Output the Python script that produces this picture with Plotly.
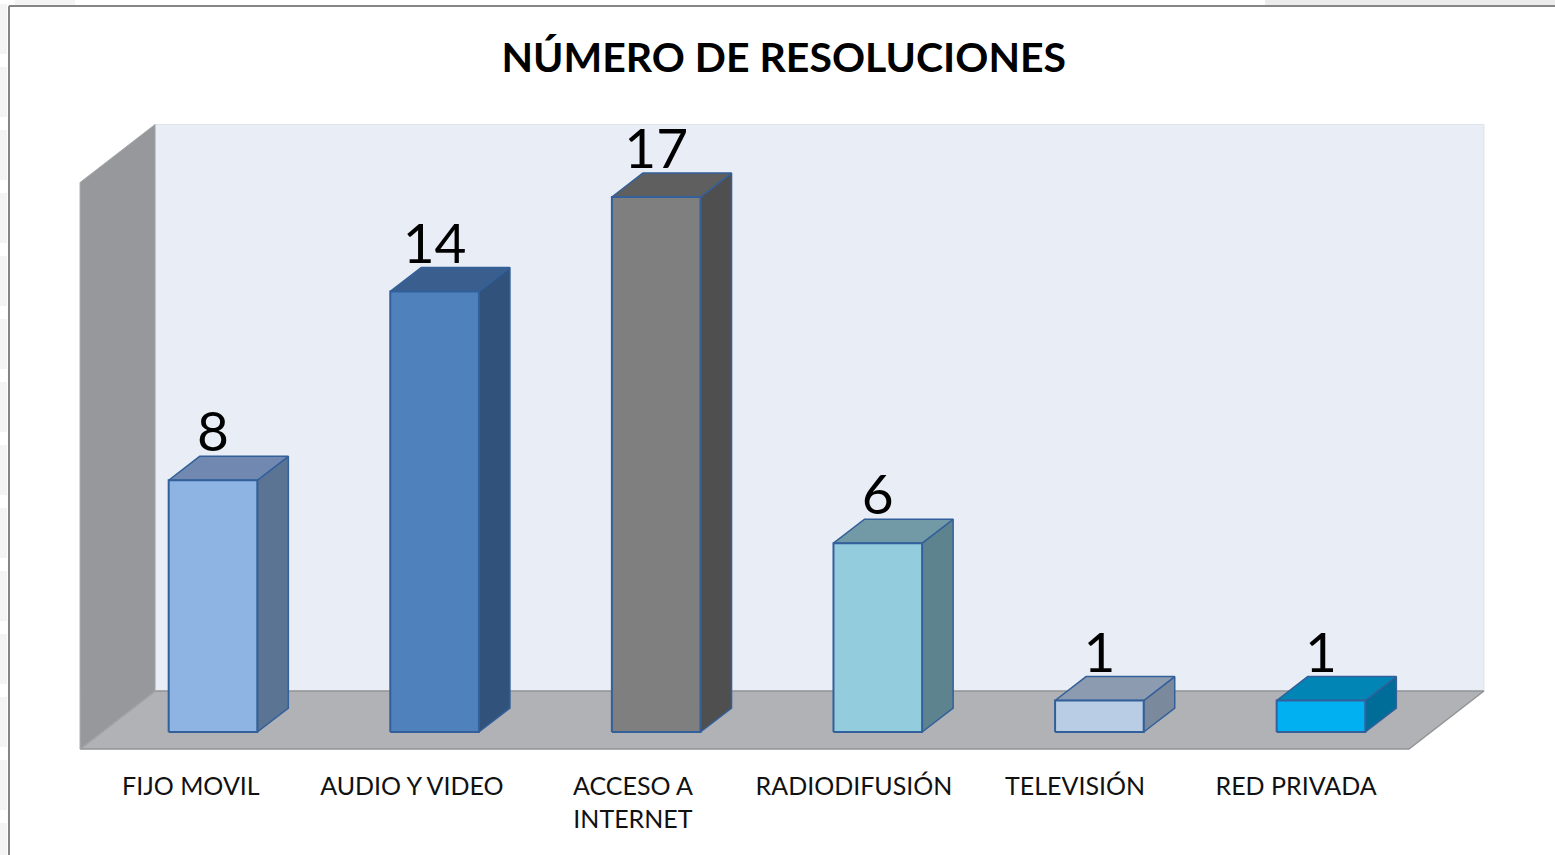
import plotly.graph_objects as go

TITLE = "NÚMERO DE RESOLUCIONES"
CATEGORIES = ["FIJO MOVIL", "AUDIO Y VIDEO", "ACCESO A<br>INTERNET", "RADIODIFUSIÓN", "TELEVISIÓN", "RED PRIVADA"]
VALUES = [8, 14, 17, 6, 1, 1]
FRONT_COLORS = ["#8eb4e3", "#4f81bd", "#7f7f7f", "#93cddd", "#b9cde5", "#00b0f0"]
TOP_COLORS = ["#7189b0", "#3a5f8f", "#5f5f5f", "#7299a6", "#8d9bb0", "#0085b5"]
SIDE_COLORS = ["#5b7493", "#31527b", "#4f4f4f", "#5d838f", "#7a8a9c", "#006d98"]

AXIS_MAX = 18
HALF_W = 0.2
BAR_DX, BAR_DY = 0.14, 0.76
FLOOR_FRONT = -0.54
WALL_DX, WALL_DY = 0.3384, 1.843
X_LEFT, X_RIGHT = -0.6, 5.397
LABEL_DROP = 0.28
EDGE = "#33609a"
FONT = "Lato"
W, H, PLOT_H = 1555, 855, 760

fig = go.Figure()

def face(xs, ys, fill, line=None, width=0):
    fig.add_trace(go.Scatter(
        x=xs + xs[:1], y=ys + ys[:1], mode="lines", fill="toself", fillcolor=fill,
        line=dict(color=line or fill, width=width), hoverinfo="skip", showlegend=False))

# back wall, floor, side wall
face([X_LEFT + WALL_DX, X_RIGHT + WALL_DX, X_RIGHT + WALL_DX, X_LEFT + WALL_DX],
     [FLOOR_FRONT + WALL_DY, FLOOR_FRONT + WALL_DY, FLOOR_FRONT + WALL_DY + AXIS_MAX, FLOOR_FRONT + WALL_DY + AXIS_MAX],
     "#e9edf5", "#dfe3ea", 1)
face([X_LEFT, X_RIGHT, X_RIGHT + WALL_DX, X_LEFT + WALL_DX],
     [FLOOR_FRONT, FLOOR_FRONT, FLOOR_FRONT + WALL_DY, FLOOR_FRONT + WALL_DY],
     "#b0b2b6", "#929496", 1.5)
face([X_LEFT, X_LEFT + WALL_DX, X_LEFT + WALL_DX, X_LEFT],
     [FLOOR_FRONT, FLOOR_FRONT + WALL_DY, FLOOR_FRONT + WALL_DY + AXIS_MAX, FLOOR_FRONT + AXIS_MAX],
     "#97989b", "#a6a7aa", 1)

# bars
for i, v in enumerate(VALUES):
    l, r = i - HALF_W, i + HALF_W
    face([r, r + BAR_DX, r + BAR_DX, r], [0, BAR_DY, v + BAR_DY, v], SIDE_COLORS[i], EDGE, 1.5)
    face([l, r, r + BAR_DX, l + BAR_DX], [v, v, v + BAR_DY, v + BAR_DY], TOP_COLORS[i], EDGE, 1.5)
    face([l, r, r, l], [0, 0, v, v], FRONT_COLORS[i], EDGE, 2)

# value labels
fig.add_trace(go.Scatter(
    x=list(range(len(VALUES))), y=[v + BAR_DY - LABEL_DROP for v in VALUES], mode="text",
    text=[str(v) for v in VALUES], textposition="top center",
    textfont=dict(family=FONT, size=55, color="#000000"),
    cliponaxis=False, hoverinfo="skip", showlegend=False))

# faint page background behind the chart frame
background = []
for k in range(14):
    background.append(dict(type="rect", xref="paper", yref="paper", layer="below",
                           x0=0, x1=7 / W,
                           y0=1 - (4 + 63 * k + 50) / PLOT_H, y1=1 - (4 + 63 * k) / PLOT_H,
                           fillcolor="#f4f4f4", line=dict(width=0)))
background.append(dict(type="rect", xref="paper", yref="paper", layer="below",
                       x0=1265 / W, x1=1, y0=1 - 5 / PLOT_H, y1=1,
                       fillcolor="#ececec", line=dict(width=0)))
background.append(dict(type="rect", xref="paper", yref="paper", layer="below",
                       x0=15 / W, x1=75 / W, y0=1 - 5 / PLOT_H, y1=1,
                       fillcolor="#f4f4f4", line=dict(width=0)))

frame = [
    dict(type="line", xref="paper", yref="paper", x0=9 / W, x1=9 / W,
         y0=-(H - PLOT_H) / PLOT_H, y1=1 - 6 / PLOT_H, line=dict(color="#868686", width=2)),
    dict(type="line", xref="paper", yref="paper", x0=9 / W, x1=1,
         y0=1 - 6 / PLOT_H, y1=1 - 6 / PLOT_H, line=dict(color="#868686", width=2)),
]

fig.update_layout(
    width=W, height=H, autosize=False,
    margin=dict(l=0, r=0, t=0, b=H - PLOT_H),
    paper_bgcolor="#ffffff", plot_bgcolor="rgba(0,0,0,0)",
    title=dict(text=TITLE, x=0.504, xanchor="center", y=0.932, yanchor="middle",
               font=dict(family=FONT, size=41, color="#000000", weight="bold")),
    xaxis=dict(range=[-0.9612, 6.056], showgrid=False, zeroline=False, showline=False,
               tickmode="array", tickvals=[i * 0.9975 - 0.1 for i in range(len(CATEGORIES))],
               ticktext=CATEGORIES, ticks="outside", ticklen=4, tickcolor="rgba(0,0,0,0)",
               tickangle=0, tickfont=dict(family=FONT, size=25, color="#111111"), fixedrange=True),
    yaxis=dict(range=[-0.8897, 23.26], visible=False, fixedrange=True),
    shapes=background + frame,
)

fig.write_html("out.html", config=dict(displayModeBar=False),
               post_script="document.body.style.margin='0';")
